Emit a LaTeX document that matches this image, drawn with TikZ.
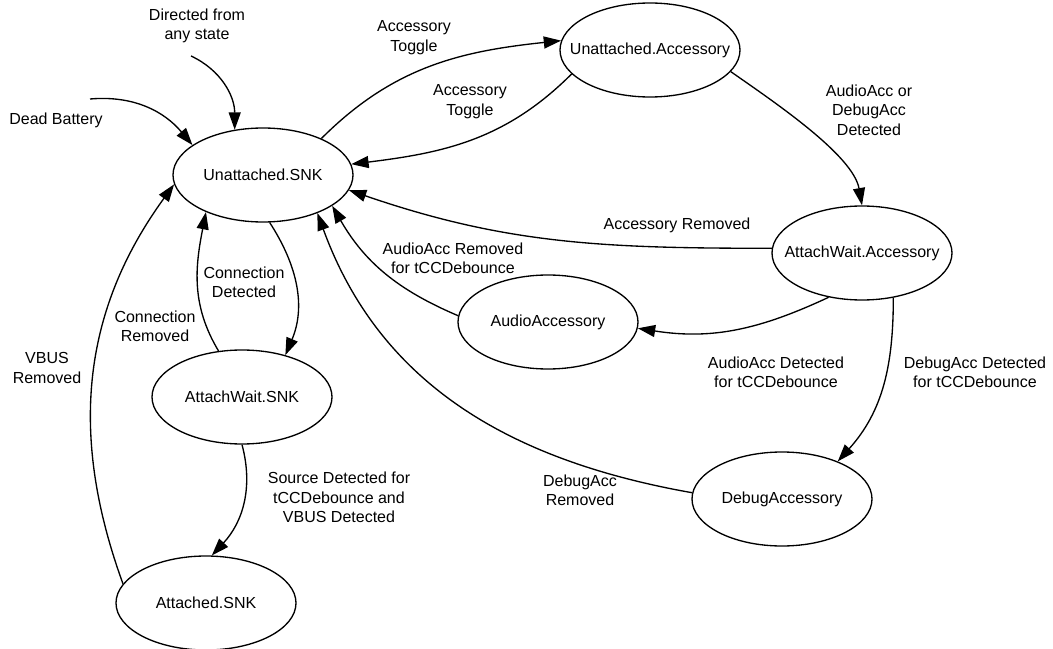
\documentclass[tikz,border=0pt]{standalone}
\usepackage{fontspec}
\setmainfont{Liberation Sans}
\usetikzlibrary{shapes.geometric,arrows.meta}

\tikzset{
  state/.style={draw,ellipse,line width=1pt,minimum width=135pt,minimum height=70.5pt,inner xsep=-15pt,inner ysep=0pt},
  lbl/.style={align=center,inner sep=0pt},
  trans/.style={line width=1pt,-{Triangle[length=13pt,width=9pt]}}
}

\begin{document}
\begin{tikzpicture}[x=0.75pt,y=0.75pt,font=\fontsize{12}{14.5}\selectfont]
  \useasboundingbox (0,0) rectangle (1053,-649);
  \node[state] (usnk)  at (263,-175) {Unattached.SNK};
  \node[state] (uacc)  at (650,-50)  {Unattached.Accessory};
  \node[state] (awacc) at (862,-253) {AttachWait.Accessory};
  \node[state] (audio) at (548,-322) {AudioAccessory};
  \node[state] (awsnk) at (242,-397) {AttachWait.SNK};
  \node[state] (debug) at (782,-499) {DebugAccessory};
  \node[state] (asnk)  at (206,-603) {Attached.SNK};
  \coordinate (dbs) at (90,-99);
  \coordinate (dfs) at (191,-56);

  \draw[trans] (dbs) to[out=5,in=130] (usnk.157);
  \draw[trans] (dfs) to[out=-25,in=90] (usnk.122);
  \draw[trans] (usnk.32) to[out=45,in=186] (uacc.174);
  \draw[trans] (uacc.197) to[out=225,in=7] (usnk.7);
  \draw[trans] (uacc.-15) to[out=-35,in=100,looseness=0.7] (awacc.north);
  \draw[trans] (awacc.177) to[out=180,in=-19] (usnk.-10);
  \draw[trans] (audio.176) to[out=157,in=-60] (usnk.-24);
  \draw[trans] (debug.176) to[out=170,in=-70] (usnk.-35);
  \draw[trans] (awacc.233) to[out=205,in=-9] (audio.-4);
  \draw[trans] (awacc.-55) to[out=-90,in=48] (debug.34);
  \draw[trans] (usnk.-82) to[out=-57,in=67] (awsnk.44);
  \draw[trans] (awsnk.117) to[out=121,in=-101] (usnk.213);
  \draw[trans] (asnk.167) to[out=110,in=234] (usnk.186);
  \draw[trans] (awsnk.south) to[out=-75,in=47] (asnk.83);

  \node[lbl] (ldead)  at (56,-120)    {Dead Battery};
  \node[lbl] (ldir)   at (197,-26)    {Directed from\\any state};
  \node[lbl] (ltog1)  at (414,-37.5)  {Accessory\\Toggle};
  \node[lbl] (ltog2)  at (470,-101.5) {Accessory\\Toggle};
  \node[lbl] (laccd)  at (869,-110)   {AudioAcc or\\DebugAcc\\Detected};
  \node[lbl] (laccr)  at (677,-225)   {Accessory Removed};
  \node[lbl] (laudr)  at (453,-258.5) {AudioAcc Removed\\for tCCDebounce};
  \node[lbl] (lcond)  at (244,-282.5) {Connection\\Detected};
  \node[lbl] (lconr)  at (155,-326)   {Connection\\Removed};
  \node[lbl] (lvbus)  at (47,-368)    {VBUS\\Removed};
  \node[lbl] (laudd)  at (776,-372.5) {AudioAcc Detected\\for tCCDebounce};
  \node[lbl] (ldbgd)  at (975,-372)   {DebugAcc Detected\\for tCCDebounce};
  \node[lbl] (ldbgr)  at (580,-490)   {DebugAcc\\Removed};
  \node[lbl] (lsrc)   at (339,-497.5) {Source Detected for\\tCCDebounce and\\VBUS Detected};
\end{tikzpicture}
\end{document}
